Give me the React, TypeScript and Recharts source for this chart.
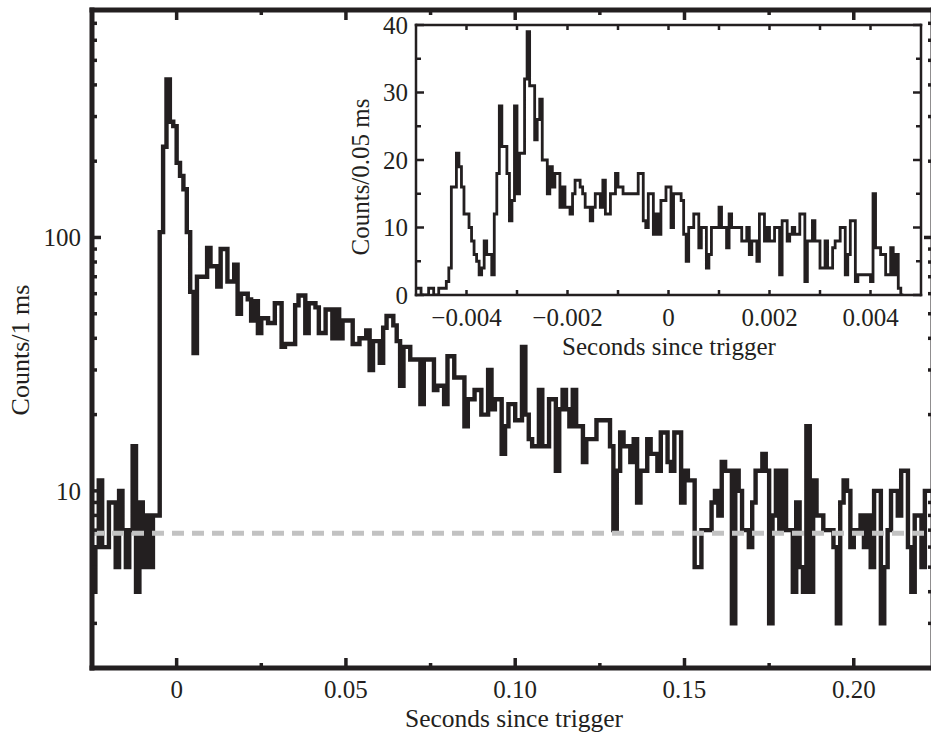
import React from 'react';
import { ComposedChart, Line, XAxis, YAxis, ReferenceLine, ReferenceArea } from 'recharts';

const INK = '#231f20';
const SERIF = '"Liberation Serif", "Times New Roman", Times, serif';

// main light curve: 1 ms bins, first bin starts at -0.025 s
const mainStart = -0.025;
const mainBin = 0.001;
const mainCounts = [
  4, 6, 11, 6, 6, 9, 9, 5, 10, 7, 5, 7, 15, 4, 9, 5, 8, 5, 8, 8,
  105, 228, 420, 286, 275, 197, 175, 155, 105, 61, 35, 70,
  70, 70, 91, 77, 77, 64, 90, 90, 67, 67, 78, 50, 60, 60, 57, 47, 56, 42, 48, 48, 46, 46, 55, 55,
  37, 38, 38, 38, 54, 59, 59, 42, 55, 55, 53, 42, 42, 52, 52, 40, 52, 40, 47, 47, 47,
  38, 38, 40, 40, 43, 30, 39, 39, 32, 44, 49, 49, 45, 39, 26, 37, 37, 33, 33, 33, 22, 33, 33, 33,
  25, 26, 26, 22, 34, 34, 28, 28, 28, 18, 23, 23, 25, 25, 20, 20, 30, 21, 23, 23, 14, 18, 22, 22,
  19, 19, 37, 20, 16, 15, 15, 25, 15, 15, 23, 23, 12, 21,
  25, 21, 18, 25, 18, 18, 13, 16, 16, 16, 19, 19, 19, 19, 15, 7, 12, 17, 15, 15, 13, 16, 9, 12, 12,
  16, 14, 14, 12, 17, 17, 13, 12, 17, 17, 9, 12, 11, 11, 5, 5, 7, 7, 7, 9, 10, 8, 13, 12, 12, 3, 12,
  10, 7, 7, 6, 9, 12,
  12, 14, 12, 3, 8, 12, 7, 12, 7, 7, 4, 9, 5, 4, 18, 4, 11, 8, 8, 7, 7, 7, 6, 3, 9, 11, 10, 6, 7, 7,
  8, 6, 8, 5, 10, 10, 3, 5, 7, 10, 10, 8, 12, 12, 6, 4, 8, 8, 5, 10, 10,
];
const backgroundLevel = 6.8;

const mainXTicks = [0, 0.025, 0.05, 0.075, 0.1, 0.125, 0.15, 0.175, 0.2];
const mainXMajor = [0, 0.05, 0.1, 0.15, 0.2];
const mainXLabels = ['0', '0.05', '0.10', '0.15', '0.20'];
const mainYTicks = [3, 4, 5, 6, 7, 8, 9, 10, 20, 30, 40, 50, 60, 70, 80, 90, 100, 200, 300, 400, 500, 600, 700];
const mainYMajor = [10, 100];
const mainYLabels = ['10', '100'];

// inset: 0.05 ms bins, first bin starts at -0.005 s
const insetStart = -0.005;
const insetBin = 0.00005;
const insetCounts = [
  1, 1, 0, 0, 0, 1, 1, 0, 0, 1, 1, 1, 2, 4,
  16, 16, 21, 19, 16, 12, 12, 10, 8, 6, 5, 3, 4, 8, 6, 6, 3,
  12, 18, 28, 22, 22, 18, 11, 14, 28, 15, 21, 21, 32, 39, 31, 31, 23, 26, 29, 20,
  20, 15, 19, 16, 18, 18, 13, 16, 13, 13, 12, 15, 17, 17, 16, 15, 13, 13, 11, 13,
  15, 15, 13, 17, 12, 12, 15, 15, 18, 16, 16, 15, 15, 15, 15, 15, 15, 18, 18, 11,
  10, 15, 15, 9, 12, 9, 14, 14, 16, 16,
  10, 15, 15, 15, 14, 9, 5, 10, 10, 12, 12, 7, 10, 10, 4, 6, 10, 10, 10, 13,
  10, 10, 7, 12, 10, 10, 10, 10, 8, 8, 10, 6, 8, 8, 5, 12, 12, 8, 10, 8,
  8, 10, 10, 3, 11, 11, 8, 9, 10, 9, 9, 12, 12, 2, 8, 8, 11, 8, 8, 4,
  4, 8, 4, 4, 7, 8, 8, 10, 10, 3, 6, 11, 11, 2, 3, 3, 3, 3, 3, 2,
  15, 7, 7, 6, 6, 3, 3, 7, 3, 6, 1, 0,
];

const insetXTicks = [-0.004, -0.003, -0.002, -0.001, 0, 0.001, 0.002, 0.003, 0.004];
const insetXMajor = [-0.004, -0.002, 0, 0.002, 0.004];
const insetXLabels = ['\u22120.004', '\u22120.002', '0', '0.002', '0.004'];
const insetYTicks = [0, 5, 10, 15, 20, 25, 30, 35, 40];
const insetYMajor = [0, 10, 20, 30, 40];
const insetYLabels = ['0', '10', '20', '30', '40'];

// histogram -> points for a stepAfter line (extra point closes the last bin)
const toSteps = (start: number, bin: number, counts: number[]) => {
  const rows = counts.map((v, i) => ({ t: start + i * bin, v }));
  rows.push({ t: start + counts.length * bin, v: counts[counts.length - 1] });
  return rows;
};

const mainData = toSteps(mainStart, mainBin, mainCounts);
const insetData = toSteps(insetStart, insetBin, insetCounts);

type TickOpts = {
  side: 'left' | 'right' | 'top' | 'bottom';
  major: number[];
  labels?: string[];
  majorLen: number;
  minorLen: number;
  width: number;
  fontSize?: number;
  gap?: number;
};

// ticks drawn inward from the frame, labels only on the major ones
const makeTick = (o: TickOpts) => (props: any) => {
  const { x, y, payload } = props;
  const idx = o.major.findIndex((m) => Math.abs(m - payload.value) < 1e-9);
  const len = idx >= 0 ? o.majorLen : o.minorLen;
  let x2 = x;
  let y2 = y;
  if (o.side === 'left') x2 = x + len;
  else if (o.side === 'right') x2 = x - len;
  else if (o.side === 'bottom') y2 = y - len;
  else y2 = y + len;
  const label = o.labels && idx >= 0 ? o.labels[idx] : null;
  return (
    <g>
      <line x1={x} y1={y} x2={x2} y2={y2} stroke={INK} strokeWidth={o.width} />
      {label !== null && o.side === 'left' && (
        <text x={x - (o.gap || 0)} y={y} dy="0.35em" textAnchor="end" fill={INK} fontFamily={SERIF} fontSize={o.fontSize}>
          {label}
        </text>
      )}
      {label !== null && o.side === 'bottom' && (
        <text x={x} y={y + (o.gap || 0)} dy="0.35em" textAnchor="middle" fill={INK} fontFamily={SERIF} fontSize={o.fontSize}>
          {label}
        </text>
      )}
    </g>
  );
};

const MainBottomTick = makeTick({ side: 'bottom', major: mainXMajor, labels: mainXLabels, majorLen: 10, minorLen: 5, width: 3.5, fontSize: 25, gap: 21 });
const MainTopTick = makeTick({ side: 'top', major: mainXMajor, majorLen: 10, minorLen: 5, width: 3.5 });
const MainLeftTick = makeTick({ side: 'left', major: mainYMajor, labels: mainYLabels, majorLen: 9, minorLen: 5, width: 3.5, fontSize: 25, gap: 11 });
const MainRightTick = makeTick({ side: 'right', major: mainYMajor, majorLen: 9, minorLen: 5, width: 3.5 });

const InsetBottomTick = makeTick({ side: 'bottom', major: insetXMajor, labels: insetXLabels, majorLen: 5, minorLen: 5, width: 2.5, fontSize: 25, gap: 22 });
const InsetTopTick = makeTick({ side: 'top', major: insetXMajor, majorLen: 5, minorLen: 5, width: 2.5 });
const InsetLeftTick = makeTick({ side: 'left', major: insetYMajor, labels: insetYLabels, majorLen: 8, minorLen: 5, width: 2.5, fontSize: 25, gap: 8 });
const InsetRightTick = makeTick({ side: 'right', major: insetYMajor, majorLen: 8, minorLen: 5, width: 2.5 });

const mainAxisLine = { stroke: INK, strokeWidth: 5, strokeLinecap: 'square' as const };
const insetAxisLine = { stroke: INK, strokeWidth: 2.5, strokeLinecap: 'square' as const };

const titleStyle = (cx: number, cy: number, size: number, rotate = false): React.CSSProperties => ({
  position: 'absolute',
  left: cx,
  top: cy,
  transform: `translate(-50%, -50%)${rotate ? ' rotate(-90deg)' : ''}`,
  whiteSpace: 'nowrap',
  fontFamily: SERIF,
  fontSize: size,
  lineHeight: 1,
  color: INK,
});

const App: React.FC = () => {
  return (
    <div style={{ position: 'absolute', left: 0, top: 0, width: 931, height: 732, overflow: 'hidden', background: '#fff' }}>
      {/* main panel: plot area x 92..933, y 10..668 */}
      <div style={{ position: 'absolute', left: 0, top: 0 }}>
        <ComposedChart width={943} height={732} data={mainData} margin={{ top: 0, right: 0, bottom: 34, left: 52 }}>
          <XAxis xAxisId="b" dataKey="t" type="number" orientation="bottom" domain={[-0.025, 0.2234]} allowDataOverflow
            ticks={mainXTicks} interval={0} height={30} tickSize={0} tickMargin={0} tickLine={false}
            axisLine={mainAxisLine} tick={MainBottomTick} />
          <XAxis xAxisId="t" dataKey="t" type="number" orientation="top" domain={[-0.025, 0.2234]} allowDataOverflow
            ticks={mainXTicks} interval={0} height={10} tickSize={0} tickMargin={0} tickLine={false}
            axisLine={mainAxisLine} tick={MainTopTick} />
          <YAxis yAxisId="l" orientation="left" scale="log" domain={[2, 790]} allowDataOverflow
            ticks={mainYTicks} interval={0} width={40} tickSize={0} tickMargin={0} tickLine={false}
            axisLine={mainAxisLine} tick={MainLeftTick} />
          <YAxis yAxisId="r" orientation="right" scale="log" domain={[2, 790]} allowDataOverflow
            ticks={mainYTicks} interval={0} width={10} tickSize={0} tickMargin={0} tickLine={false}
            axisLine={mainAxisLine} tick={MainRightTick} />
          <Line xAxisId="b" yAxisId="l" dataKey="v" type="stepAfter" dot={false} stroke={INK}
            strokeWidth={4.4} isAnimationActive={false} />
          <ReferenceLine xAxisId="b" yAxisId="l" y={backgroundLevel} stroke="#c2c2c2" strokeWidth={5} strokeDasharray="12 8" />
        </ComposedChart>
      </div>

      {/* inset panel: plot area x 416..921, y 25..295 */}
      <div style={{ position: 'absolute', left: 0, top: 0 }}>
        <ComposedChart width={931} height={732} data={insetData} margin={{ top: 15, right: 0, bottom: 407, left: 376 }}>
          <XAxis xAxisId="b" dataKey="t" type="number" orientation="bottom" domain={[-0.005, 0.005]} allowDataOverflow
            ticks={insetXTicks} interval={0} height={30} tickSize={0} tickMargin={0} tickLine={false}
            axisLine={insetAxisLine} tick={InsetBottomTick} />
          <XAxis xAxisId="t" dataKey="t" type="number" orientation="top" domain={[-0.005, 0.005]} allowDataOverflow
            ticks={insetXTicks} interval={0} height={10} tickSize={0} tickMargin={0} tickLine={false}
            axisLine={insetAxisLine} tick={InsetTopTick} />
          <YAxis yAxisId="l" orientation="left" domain={[0, 40]} allowDataOverflow
            ticks={insetYTicks} interval={0} width={40} tickSize={0} tickMargin={0} tickLine={false}
            axisLine={insetAxisLine} tick={InsetLeftTick} />
          <YAxis yAxisId="r" orientation="right" domain={[0, 40]} allowDataOverflow
            ticks={insetYTicks} interval={0} width={10} tickSize={0} tickMargin={0} tickLine={false}
            axisLine={insetAxisLine} tick={InsetRightTick} />
          <ReferenceArea xAxisId="b" yAxisId="l" x1={-0.005} x2={0.005} y1={0} y2={40} fill="#fff" fillOpacity={1} stroke="none" />
          <Line xAxisId="b" yAxisId="l" dataKey="v" type="stepAfter" dot={false} stroke={INK}
            strokeWidth={2.8} isAnimationActive={false} />
        </ComposedChart>
      </div>

      <div style={titleStyle(514, 719, 25.5)}>Seconds since trigger</div>
      <div style={titleStyle(21, 350, 26, true)}>Counts/1 ms</div>
      <div style={titleStyle(669, 346, 25)}>Seconds since trigger</div>
      <div style={titleStyle(360, 177, 25, true)}>Counts/0.05 ms</div>
    </div>
  );
};

export default App;
